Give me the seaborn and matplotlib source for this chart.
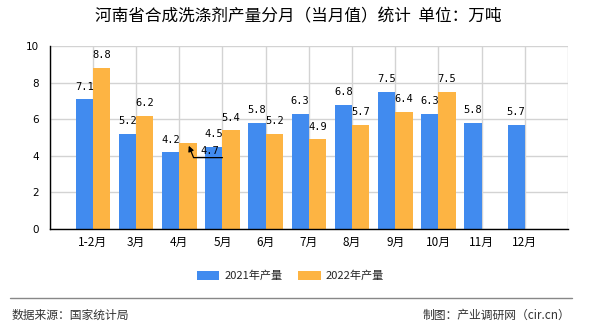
import numpy as np
import pandas as pd
import matplotlib
matplotlib.use("Agg")
import matplotlib.pyplot as plt
from matplotlib.lines import Line2D
from matplotlib.patches import Patch
import seaborn as sns

# ---- data ----
months = ["1-2月", "3月", "4月", "5月", "6月", "7月", "8月", "9月", "10月", "11月", "12月"]
vals_2021 = [7.1, 5.2, 4.2, 4.5, 5.8, 6.3, 6.8, 7.5, 6.3, 5.8, 5.7]
vals_2022 = [8.8, 6.2, 4.7, 5.4, 5.2, 4.9, 5.7, 6.4, 7.5, np.nan, np.nan]
series_names = ["2021年产量", "2022年产量"]
y_ticks = [0, 2, 4, 6, 8, 10]
title = "河南省合成洗涤剂产量分月（当月值）统计  单位：万吨"
source_left = "数据来源：国家统计局"
source_right = "制图：产业调研网（cir.cn）"

colors = ["#418BEF", "#FDB443"]

df = pd.DataFrame({
    "month": months * 2,
    "value": vals_2021 + vals_2022,
    "series": [series_names[0]] * len(months) + [series_names[1]] * len(months),
})

sns.set_style("white")
plt.rcParams["font.family"] = ["Noto Sans CJK SC", "DejaVu Sans"]

W, H = 590, 330
fig = plt.figure(figsize=(W / 100, H / 100), dpi=100)
ax = fig.add_axes([49.7 / W, 1 - 229 / H, (568 - 49.7) / W, (229 - 46) / H])

sns.barplot(data=df, x="month", y="value", hue="series", order=months,
            hue_order=series_names, palette=colors, width=0.8,
            saturation=1, ax=ax, legend=False, zorder=3,
            linewidth=0, edgecolor="none")

ax.set_xlim(-1, len(months))
ax.set_ylim(0, 10)
ax.set_yticks(y_ticks)
ax.set_yticklabels([str(t) for t in y_ticks], fontsize=7.5, family="DejaVu Sans")
xt = list(range(-1, len(months) + 1))
ax.set_xticks(xt)
ax.set_xticklabels([""] + months + [""], fontsize=8.5)
ax.set_xlabel("")
ax.set_ylabel("")

ax.grid(True, color="#D3D3D3", lw=1, zorder=0)
ax.set_axisbelow(True)
for s in ["top", "right"]:
    ax.spines[s].set_visible(False)
for s in ["left", "bottom"]:
    ax.spines[s].set_color("black")
    ax.spines[s].set_linewidth(1)
    ax.spines[s].set_zorder(4)
ax.tick_params(axis="y", length=5.5, width=1, color="black", pad=2, labelcolor="black")
ax.tick_params(axis="x", length=3, width=1, color="black", pad=2, labelcolor="black")

# value labels
label_font = dict(fontsize=7.5, family="DejaVu Sans Mono", color="black")
for ci, cont in enumerate(ax.containers):
    for bi, bar in enumerate(cont):
        h = bar.get_height()
        if np.isnan(h) or h == 0:
            continue
        xc = bar.get_x() + bar.get_width() / 2
        if ci == 1 and months[bi] == "4月":
            # label displaced with a leader arrow
            ax.annotate(f"{h:.1f}", xy=(xc, h), xytext=(16, -6),
                        textcoords="offset points", ha="center", va="center",
                        zorder=6, **label_font)
            ax.annotate("", xy=(xc + 0.02, h - 0.15), xytext=(xc + 0.8, h - 0.8),
                        arrowprops=dict(arrowstyle="-|>", color="black", lw=0.9,
                                        shrinkA=0, shrinkB=0, mutation_scale=8,
                                        connectionstyle="angle,angleA=0,angleB=112"),
                        zorder=6)
            continue
        ax.annotate(f"{h:.1f}", xy=(xc, h), xytext=(0, 9), textcoords="offset points",
                    ha="center", va="center", zorder=6, **label_font)

# legend
handles = [Patch(facecolor=c, edgecolor="none") for c in colors]
fig.legend(handles, series_names, loc="center", bbox_to_anchor=(290.5 / W, 1 - 276 / H),
           ncol=2, frameon=False, fontsize=8, handlelength=2.0, handleheight=0.8,
           handletextpad=0.45, columnspacing=1.45)

# title
fig.text(298 / W, 1 - 17 / H, title, ha="center", va="center", fontsize=12, color="black")

# footer
fig.add_artist(Line2D([10 / W, 572 / W], [1 - 297.7 / H] * 2, color="#888888", lw=1))
fig.text(12 / W, 1 - 315 / H, source_left, ha="left", va="center", fontsize=8.5, color="#333333")
fig.text(570 / W, 1 - 315 / H, source_right, ha="right", va="center", fontsize=8.5, color="#333333")

fig.savefig("out.png", dpi=100)
